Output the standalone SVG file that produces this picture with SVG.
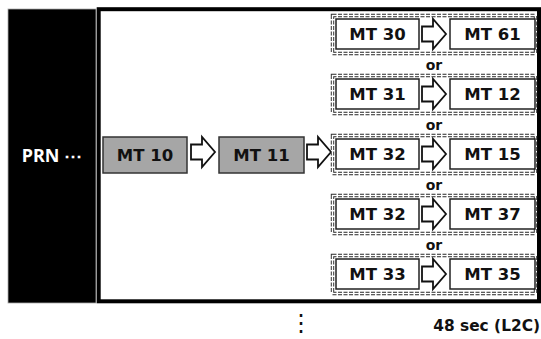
<svg xmlns="http://www.w3.org/2000/svg" width="541" height="339" viewBox="0 0 541 339">
<style>
.t{font-family:"DejaVu Sans","Liberation Sans",sans-serif;font-weight:bold;font-size:16.5px;fill:#111;text-anchor:middle}
.box{fill:#fff;stroke:#222;stroke-width:1.5}
.gbox{fill:#a6a6a6;stroke:#333;stroke-width:1.5}
.dash{fill:none;stroke:#333;stroke-width:3.4;stroke-dasharray:4 1.5}
.dashin{fill:none;stroke:#fff;stroke-width:1.4}
.arr{fill:#fff;stroke:#111;stroke-width:1.8;stroke-linejoin:miter}
.or{font-family:"DejaVu Sans","Liberation Sans",sans-serif;font-weight:bold;font-size:14px;fill:#111;text-anchor:middle}
</style>
<defs>
<path id="ar" d="M0,-7.5 H11 V-15 L24,0 L11,15 V7.5 H0 Z"/>
</defs>
<g id="prn">
<rect x="8" y="9" width="88" height="294" fill="#000" stroke="#aaa" stroke-width="0.8"/>
<text x="52" y="162" style="font-family:'Noto Sans','Liberation Sans',sans-serif;font-weight:bold;font-size:18px;fill:#fff;text-anchor:middle">PRN ⋯</text>
</g>
<rect id="frame" x="98.7" y="9.2" width="440.3" height="292.1" fill="#fff" stroke="#000" stroke-width="4"/>
<g id="mt10"><rect x="103" y="137" width="84" height="36" class="gbox"/><text x="145" y="161" class="t">MT 10</text></g>
<g id="mt11"><rect x="219" y="137" width="85" height="36" class="gbox"/><text x="261.5" y="161" class="t">MT 11</text></g>
<g id="connectors">
<use href="#ar" x="191" y="152" class="arr"/>
<use href="#ar" x="307" y="152" class="arr"/>
<use href="#ar" x="422" y="34" class="arr"/>
<use href="#ar" x="422" y="94" class="arr"/>
<use href="#ar" x="422" y="154" class="arr"/>
<use href="#ar" x="422" y="214" class="arr"/>
<use href="#ar" x="422" y="274" class="arr"/>
</g>
<g id="row1">
<rect x="332.5" y="15.5" width="203" height="38" class="dash"/><rect x="332.5" y="15.5" width="203" height="38" class="dashin"/>
<rect x="336" y="19" width="83" height="30" class="box"/><text x="377.5" y="40" class="t">MT 30</text>
<rect x="450" y="19" width="85" height="30" class="box"/><text x="492.5" y="40" class="t">MT 61</text>
</g>
<text x="434" y="70" class="or">or</text>
<g id="row2">
<rect x="332.5" y="75.5" width="203" height="38" class="dash"/><rect x="332.5" y="75.5" width="203" height="38" class="dashin"/>
<rect x="336" y="79" width="83" height="30" class="box"/><text x="377.5" y="100" class="t">MT 31</text>
<rect x="450" y="79" width="85" height="30" class="box"/><text x="492.5" y="100" class="t">MT 12</text>
</g>
<text x="434" y="130" class="or">or</text>
<g id="row3">
<rect x="332.5" y="135.5" width="203" height="38" class="dash"/><rect x="332.5" y="135.5" width="203" height="38" class="dashin"/>
<rect x="336" y="139" width="83" height="30" class="box"/><text x="377.5" y="160" class="t">MT 32</text>
<rect x="450" y="139" width="85" height="30" class="box"/><text x="492.5" y="160" class="t">MT 15</text>
</g>
<text x="434" y="190" class="or">or</text>
<g id="row4">
<rect x="332.5" y="195.5" width="203" height="38" class="dash"/><rect x="332.5" y="195.5" width="203" height="38" class="dashin"/>
<rect x="336" y="199" width="83" height="30" class="box"/><text x="377.5" y="220" class="t">MT 32</text>
<rect x="450" y="199" width="85" height="30" class="box"/><text x="492.5" y="220" class="t">MT 37</text>
</g>
<text x="434" y="250" class="or">or</text>
<g id="row5">
<rect x="332.5" y="255.5" width="203" height="38" class="dash"/><rect x="332.5" y="255.5" width="203" height="38" class="dashin"/>
<rect x="336" y="259" width="83" height="30" class="box"/><text x="377.5" y="280" class="t">MT 33</text>
<rect x="450" y="259" width="85" height="30" class="box"/><text x="492.5" y="280" class="t">MT 35</text>
</g>
<text x="301" y="331" class="t" style="font-weight:normal;font-size:24px">⋮</text>
<text x="540" y="331" class="t" style="text-anchor:end;font-size:15.4px">48 sec (L2C)</text>
</svg>
